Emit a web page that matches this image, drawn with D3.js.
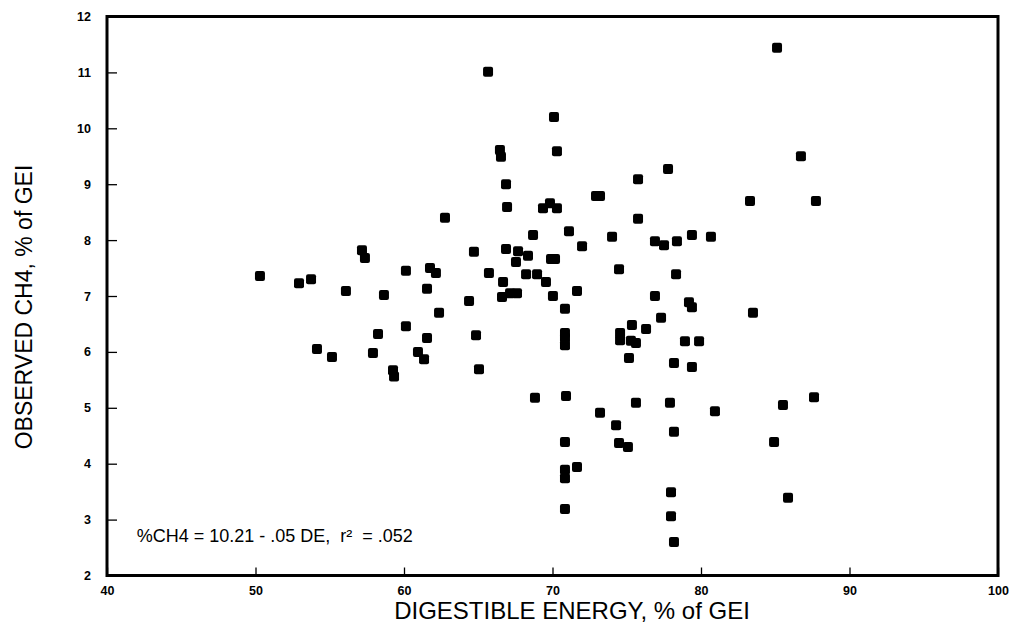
<!DOCTYPE html>
<html>
<head>
<meta charset="utf-8">
<script src="https://cdn.jsdelivr.net/npm/d3@7"></script>
<style>
  body { margin: 0; background: #fff; }
  svg { display: block; }
</style>
</head>
<body>
<div id="chart"></div>
<script>
// digestible energy (% of GEI) and observed CH4 (% of GEI)
const de = [50.3, 52.93, 53.74, 54.14, 55.15, 56.09, 57.17, 57.37, 58.25, 58.65,
  57.91, 59.26, 59.33, 60.13, 60.13, 60.94, 61.35, 61.55, 61.55, 61.75,
  62.15, 62.36, 62.76, 64.38, 64.71, 64.85, 65.05, 65.66, 65.72, 66.46,
  66.53, 66.67, 66.6, 66.87, 66.94, 66.87, 67.14, 67.54, 67.68, 67.61,
  68.22, 68.35, 68.69, 68.82, 68.96, 69.36, 69.83, 70.3, 69.56, 69.9,
  70.17, 70.03, 70.1, 70.3, 70.84, 70.84, 70.84, 70.84, 70.91, 70.84,
  70.84, 70.84, 70.84, 71.65, 71.11, 71.65, 71.99, 72.93, 73.2, 73.2,
  74.01, 74.28, 74.48, 74.55, 74.55, 74.48, 75.08, 75.15, 75.35, 75.28,
  75.62, 75.62, 75.76, 75.76, 76.3, 76.9, 76.9, 77.31, 77.51, 77.78,
  77.91, 77.98, 77.98, 78.18, 78.18, 78.18, 78.32, 78.38, 78.92, 79.39,
  79.19, 79.39, 79.39, 79.87, 80.67, 80.94, 83.3, 83.5, 84.92, 85.12,
  85.52, 85.86, 86.73, 87.61, 87.74];
const ch4 = [7.36, 7.23, 7.30, 6.05, 5.91, 7.09, 7.82, 7.68, 6.32, 7.02,
  5.98, 5.67, 5.56, 7.45, 6.46, 6.00, 5.87, 6.25, 7.13, 7.50,
  7.41, 6.70, 8.40, 6.91, 7.79, 6.30, 5.69, 11.01, 7.41, 9.61,
  9.49, 7.25, 6.98, 9.00, 8.59, 7.84, 7.05, 7.61, 7.80, 7.05,
  7.39, 7.72, 8.09, 5.18, 7.39, 8.57, 8.66, 8.57, 7.25, 7.66,
  7.66, 7.00, 10.20, 9.59, 6.77, 6.34, 6.25, 6.12, 5.21, 4.39,
  3.89, 3.74, 3.19, 3.94, 8.16, 7.09, 7.89, 8.79, 8.79, 4.91,
  8.06, 4.69, 7.48, 6.34, 6.21, 4.37, 4.30, 5.89, 6.48, 6.20,
  6.16, 5.09, 9.09, 8.38, 6.41, 7.00, 7.98, 6.61, 7.91, 9.27,
  5.09, 3.49, 3.06, 2.60, 4.57, 5.80, 7.39, 7.98, 6.19, 8.09,
  6.89, 6.80, 5.73, 6.19, 8.06, 4.94, 8.70, 6.70, 4.39, 11.44,
  5.05, 3.39, 9.50, 5.19, 8.70];

const xTicks = [40, 50, 60, 70, 80, 90, 100];
const yTicks = [2, 3, 4, 5, 6, 7, 8, 9, 10, 11, 12];
const equation = '%CH4 = 10.21 - .05 DE,  r\u00b2  = .052';

const margin = {top: 16.5, right: 12, bottom: 48.5, left: 107};
const W = 1010, H = 624;
const width = W - margin.left - margin.right;
const height = H - margin.top - margin.bottom;

var x = d3.scaleLinear().domain([40, 100]).range([0, width]);
var y = d3.scaleLinear().domain([2, 12]).range([height, 0]);

var svg = d3.select('#chart').append('svg')
    .attr('width', W)
    .attr('height', H);

var g = svg.append('g')
    .attr('transform', 'translate(' + margin.left + ',' + margin.top + ')');

// axes with inward ticks
var yAxis = g.append('g')
    .call(d3.axisLeft(y).tickValues(yTicks).tickSizeInner(-10).tickSizeOuter(0).tickPadding(16));
var xAxis = g.append('g')
    .attr('transform', 'translate(0,' + height + ')')
    .call(d3.axisBottom(x).tickValues(xTicks).tickSizeInner(-8).tickSizeOuter(0).tickPadding(11));

[xAxis, yAxis].forEach(function(a) {
    a.select('.domain').remove();
    a.selectAll('line').attr('stroke', '#000').attr('stroke-width', 1.3);
    a.selectAll('text')
        .attr('fill', '#000')
        .style('font-family', '"Liberation Sans", Arial, sans-serif')
        .style('font-weight', 'bold')
        .style('font-size', '12.5px');
});

// frame
g.append('rect')
    .attr('x', 0).attr('y', 0)
    .attr('width', width).attr('height', height)
    .attr('fill', 'none')
    .attr('stroke', '#000')
    .attr('stroke-width', 3);

// points
var pts = de.map(function(d, i) { return {de: d, ch4: ch4[i]}; });
var s = 10;
g.append('g').selectAll('rect')
    .data(pts)
    .enter().append('rect')
    .attr('x', d => x(d.de) - s / 2)
    .attr('y', d => y(d.ch4) - s / 2)
    .attr('width', s).attr('height', s)
    .attr('rx', 2).attr('ry', 2)
    .attr('fill', '#000');

// regression note
g.append('text')
    .attr('x', x(42))
    .attr('y', y(2.6))
    .style('font-family', '"Liberation Sans", Arial, sans-serif')
    .style('font-size', '18px')
    .style('white-space', 'pre')
    .attr('fill', '#000')
    .text(equation);

// axis titles
svg.append('text')
    .attr('x', 572)
    .attr('y', 619)
    .attr('text-anchor', 'middle')
    .style('font-family', '"Liberation Sans", Arial, sans-serif')
    .style('font-size', '24px')
    .text('DIGESTIBLE ENERGY, % of GEI');

svg.append('text')
    .attr('transform', 'translate(32,' + 307 + ') rotate(-90)')
    .attr('text-anchor', 'middle')
    .style('font-family', '"Liberation Sans", Arial, sans-serif')
    .style('font-size', '23px')
    .text('OBSERVED CH4, % of GEI');
</script>
</body>
</html>
